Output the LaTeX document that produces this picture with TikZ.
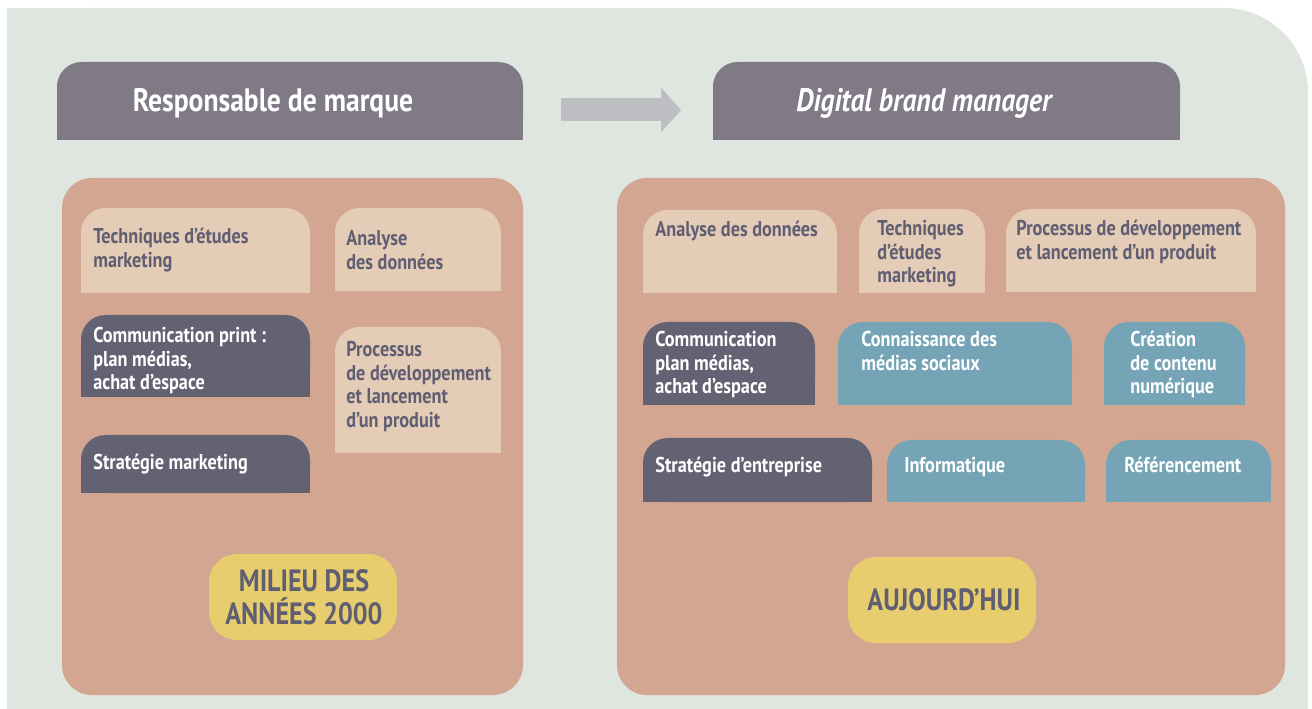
\documentclass[tikz,border=0pt]{standalone}
\usepackage{fontspec}
\setmainfont{PT Sans}[FakeStretch=0.85]
\usepackage{tikz}
\usetikzlibrary{arrows.meta,fit}

\definecolor{bggreen}{HTML}{DFE6DF}
\definecolor{panel}{HTML}{D2A690}
\definecolor{peach}{HTML}{E4CCB6}
\definecolor{slate}{HTML}{636273}
\definecolor{sociblue}{HTML}{74A4B5}
\definecolor{headgrey}{HTML}{807A87}
\definecolor{sand}{HTML}{E8CD6F}
\definecolor{ink}{HTML}{5F5E73}
\definecolor{arrowgrey}{HTML}{BDBEC2}

\tikzset{
  tabbox/.style={fill=#1, rounded corners=14pt, inner sep=0pt, outer sep=0pt},
  panelbox/.style={fill=panel, rounded corners=17pt, inner sep=0pt, outer sep=0pt},
  yearbox/.style={fill=sand, rounded corners=16pt, inner sep=0pt, outer sep=0pt},
  txt/.style={anchor=north west, align=left, inner sep=0pt, text=ink,
    font=\bfseries\fontsize{12.2}{13.4}\selectfont},
  wtxt/.style={txt, text=white},
  headtxt/.style={text=white, inner sep=0pt, font=\bfseries\fontsize{18.5}{20}\selectfont},
  yeartxt/.style={text=ink, align=center, inner sep=0pt, font=\bfseries\fontsize{17.5}{18.5}\selectfont},
  bigarrow/.style={draw=arrowgrey, line width=0.46cm,
    -{Triangle[length=0.4cm, width=0.9cm, line width=0pt, fill=arrowgrey]}}
}

\begin{document}
\begin{tikzpicture}[x=0.02cm, y=-0.02cm]
    \useasboundingbox (0,0) rectangle (1312,709);

    % Background
    \fill[bggreen, rounded corners=48pt] (7,8) rectangle (1308,800);
    \fill[bggreen] (7,8) rectangle (400,400);

    % Headers
    \node[tabbox=headgrey, fit={(57,62) (523,140)}] (hl) {};
    \node[tabbox=headgrey, fit={(713,62) (1180,140)}] (hr) {};
    \draw[bigarrow] ([shift={(38,9)}]hl.east) -- ([shift={(-32,9)}]hr.west);

    % Panels
    \node[panelbox, fit={(62,178) (523,695)}] (pl) {};
    \node[panelbox, fit={(617,178) (1285,695)}] (pr) {};

    % Left skills
    \node[tabbox=peach, fit={(81,208) (310,293)}] (tl1) {};
    \node[tabbox=peach, fit={(335,208) (501,291)}] (tl2) {};
    \node[tabbox=slate, fit={(81,315) (310,397)}] (tl3) {};
    \node[tabbox=peach, fit={(335,327) (501,453)}] (tl4) {};
    \node[tabbox=slate, fit={(81,435) (310,493)}] (tl5) {};

    % Right skills
    \node[tabbox=peach, fit={(643,210) (837,293)}] (tr1) {};
    \node[tabbox=peach, fit={(859,209) (985,293)}] (tr2) {};
    \node[tabbox=peach, fit={(1006,209) (1256,292)}] (tr3) {};
    \node[tabbox=slate, fit={(643,322) (815,405)}] (tr4) {};
    \node[tabbox=sociblue, fit={(838,322) (1072,405)}] (tr5) {};
    \node[tabbox=sociblue, fit={(1104,322) (1245,405)}] (tr6) {};
    \node[tabbox=slate, fit={(643,438) (872,502)}] (tr7) {};
    \node[tabbox=sociblue, fit={(887,440) (1085,502)}] (tr8) {};
    \node[tabbox=sociblue, fit={(1106,440) (1271,502)}] (tr9) {};

    % square bottoms of the tabs
    \foreach \b/\c in {hl/headgrey, hr/headgrey, tl1/peach, tl2/peach, tl3/slate,
        tl4/peach, tl5/slate, tr1/peach, tr2/peach, tr3/peach, tr4/slate,
        tr5/sociblue, tr6/sociblue, tr7/slate, tr8/sociblue, tr9/sociblue}
        \fill[\c] (\b.west) rectangle (\b.south east);

    % Labels
    \node[headtxt] (hlt) at (273,103) {Responsable de marque};
    \node[headtxt] (hrt) at (924,103) {\itshape Digital brand manager};

    \node[txt] (tl1t) at (93,228) {Techniques d’études\\marketing};
    \node[txt] (tl2t) at (346,230) {Analyse\\des données};
    \node[wtxt] (tl3t) at (93,327) {Communication print :\\plan médias,\\achat d’espace};
    \node[txt] (tl4t) at (346,341) {Processus\\de développement\\et lancement\\d’un produit};
    \node[wtxt] (tl5t) at (93,454) {Stratégie marketing};

    \node[txt] (tr1t) at (655,221) {Analyse des données};
    \node[txt] (tr2t) at (877,220) {Techniques\\d’études\\marketing};
    \node[txt] (tr3t) at (1016,220) {Processus de développement\\et lancement d’un produit};
    \node[wtxt] (tr4t) at (655,331) {Communication\\plan médias,\\achat d’espace};
    \node[wtxt] (tr5t) at (861,331) {Connaissance des\\médias sociaux};
    \node[wtxt] (tr6t) at (1130,331) {Création\\de contenu\\numérique};
    \node[wtxt] (tr7t) at (655,457) {Stratégie d’entreprise};
    \node[wtxt] (tr8t) at (904,457) {Informatique};
    \node[wtxt] (tr9t) at (1124,457) {Référencement};

    % Periods
    \node[yearbox, fit={(209,554) (397,640)}] (yl) {};
    \node[yeartxt] (ylt) at (304,597) {MILIEU DES\\ANNÉES 2000};
    \node[yearbox, fit={(848,557) (1036,643)}] (yr) {};
    \node[yeartxt] (yrt) at (944,600) {AUJOURD’HUI};
\end{tikzpicture}
\end{document}
